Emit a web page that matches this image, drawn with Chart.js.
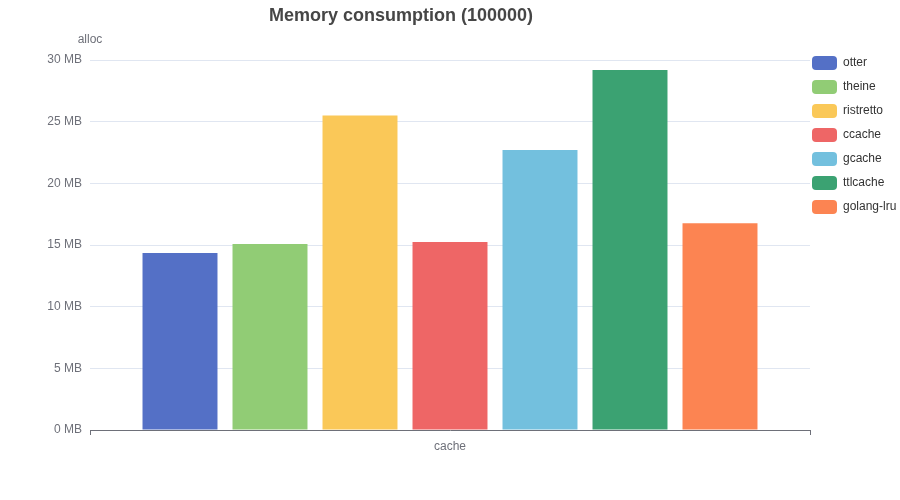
<!DOCTYPE html>
<html>
<head>
<meta charset="utf-8">
<title>Memory consumption (100000)</title>
<script src="https://cdn.jsdelivr.net/npm/chart.js@4"></script>
<style>
  html, body { margin: 0; padding: 0; background: #fff; }
  #wrap { width: 900px; height: 500px; }
</style>
</head>
<body>
<div id="wrap"><canvas id="chartMem" width="900" height="500"></canvas></div>
<script>
/* ── Data ─────────────────────────────────────────────── */
const categories = ["cache"];
const caches     = ["otter", "theine", "ristretto", "ccache", "gcache", "ttlcache", "golang-lru"];
const allocMB    = [14.35, 15.08, 25.5, 15.24, 22.7, 29.19, 16.76];
const palette    = ["#5470c6", "#91cc75", "#fac858", "#ee6666", "#73c0de", "#3ba272", "#fc8452"];
const yTicks     = [0, 5, 10, 15, 20, 25, 30];

const FONT  = "'Liberation Sans', Arial, Helvetica, sans-serif";
const AXIS  = "#6e7079";
const GRID  = "#e0e6f1";

/* ── Extra text + legend nudge ─────────────────────────── */
const decor = {
  id: "decor",
  afterLayout(chart) {
    // echarts-like legend sits slightly above the plot top and hugs its right edge
    // (only widen to the left: the legend clips to its own box)
    const lg = chart.legend;
    lg.top -= 14; lg.bottom -= 14;
    lg.left -= 8; lg.width += 8;
  },
  afterDraw(chart) {
    const { ctx, chartArea } = chart;
    ctx.save();
    ctx.textAlign    = "center";
    ctx.textBaseline = "middle";
    ctx.fillStyle    = "#464646";
    ctx.font         = `bold 18px ${FONT}`;
    ctx.fillText("Memory consumption (100000)", 401, 16);
    ctx.fillStyle    = AXIS;
    ctx.font         = `12px ${FONT}`;
    ctx.fillText("alloc", chartArea.left, chartArea.top - 20);
    ctx.restore();
  },
};

new Chart(document.getElementById("chartMem"), {
  type: "bar",
  data: {
    labels: categories,
    datasets: caches.map((name, i) => ({
      label:           name,
      data:            [allocMB[i]],
      backgroundColor: palette[i],
      borderWidth:     0,
      categoryPercentage: 0.875,
      barPercentage:      0.833,
    })),
  },
  options: {
    responsive: false,
    animation:  false,
    layout: { padding: { top: 60, left: 0, right: 0, bottom: 0 } },
    plugins: {
      title:   { display: false },
      tooltip: { enabled: false },
      legend: {
        position: "right",
        align:    "start",
        maxWidth: 90,
        labels: {
          color:     "#333",
          boxWidth:  25,
          boxHeight: 14,
          padding:   10,
          useBorderRadius: true,
          borderRadius:    4,
          font: { family: FONT, size: 12 },
        },
      },
    },
    scales: {
      x: {
        offset: true,
        afterFit: s => { s.height = 70; },
        border: { color: AXIS, width: 1 },
        grid: {
          offset: true,
          drawOnChartArea: false,
          drawTicks: true,
          tickLength: 5,
          color: AXIS,
        },
        ticks: { color: AXIS, padding: 4, font: { family: FONT, size: 12 } },
      },
      y: {
        min: 0,
        max: 30,
        afterFit: s => { s.width = 90; },
        afterBuildTicks: s => { s.ticks = yTicks.map(v => ({ value: v })); },
        border: { display: false },
        grid: {
          drawTicks: false,
          color: c => (c.tick && c.tick.value === 0 ? "rgba(0,0,0,0)" : GRID),
        },
        ticks: {
          color:   AXIS,
          padding: 8,
          font:    { family: FONT, size: 12 },
          callback: v => v + " MB",
        },
      },
    },
  },
  plugins: [decor],
});
</script>
</body>
</html>
